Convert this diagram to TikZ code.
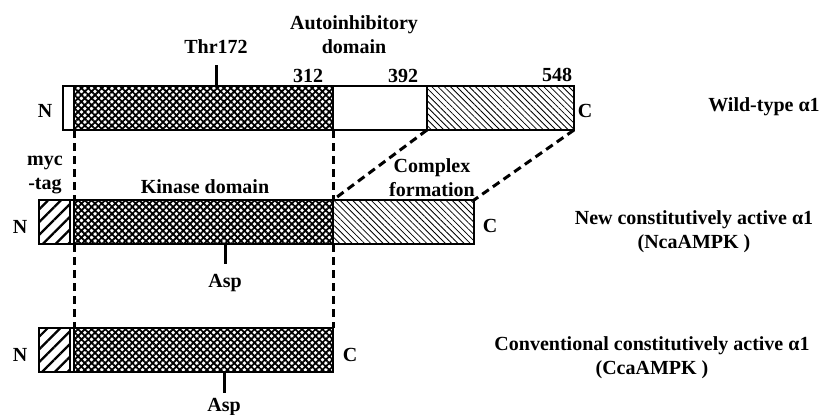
\documentclass[tikz,border=0pt]{standalone}
\usepackage{fontspec}
\setmainfont{Liberation Serif}
\usetikzlibrary{patterns.meta,positioning}
\tikzset{
  seg/.style={draw,line width=1.1pt,inner sep=0pt,outer sep=0pt,minimum height=22pt},
  kin/.style={seg,pattern={Hatch[angle=45,distance=2.4pt,line width=0.9pt]}},
  ctail/.style={seg,pattern={Lines[angle=-45,distance=2.2pt,line width=0.4pt]}},
  myc/.style={seg,pattern={Lines[angle=45,distance=4.5pt,line width=1.1pt]}},
  guide/.style={line width=1.5pt,dash pattern=on 4pt off 2.5pt},
  tick/.style={line width=1.5pt},
  lbl/.style={font=\bfseries,inner sep=0pt,align=center},
}
\begin{document}
\begin{tikzpicture}[x=0.5pt,y=-0.5pt]
  \fill[white] (0,0) rectangle (827,414);
  \useasboundingbox (0,0) rectangle (827,414);
  % wild-type alpha1
  \node[seg,minimum width=5.5pt,anchor=west] (wN) at (63,108) {};
  \node[kin,minimum width=129.5pt,right=0pt of wN] (wKin) {};
  \node[seg,minimum width=47pt,right=0pt of wKin] (wAI) {};
  \node[ctail,minimum width=73.5pt,right=0pt of wAI] (wCt) {};
  % NcaAMPK
  \node[myc,minimum width=15.5pt,anchor=west] (nMyc) at (39,222) {};
  \node[seg,minimum width=2pt,right=0pt of nMyc] (nGap) {};
  \node[kin,minimum width=129.5pt,right=0pt of nGap] (nKin) {};
  \node[ctail,minimum width=70.5pt,right=0pt of nKin] (nCt) {};
  % CcaAMPK
  \node[myc,minimum width=15.5pt,anchor=west] (cMyc) at (39,350) {};
  \node[seg,minimum width=2pt,right=0pt of cMyc] (cGap) {};
  \node[kin,minimum width=129.5pt,right=0pt of cGap] (cKin) {};
  % guide lines
  \draw[guide] (wKin.south west) -- (nKin.north west);
  \draw[guide] (nKin.south west) -- (cKin.north west);
  \draw[guide] (wKin.south east) -- (nKin.north east);
  \draw[guide] (nKin.south east) -- (cKin.north east);
  \draw[guide] (wCt.south west) -- (nCt.north west);
  \draw[guide] (wCt.south east) -- (nCt.north east);
  % labels, top
  \node[lbl] (thr) at (216,47) {Thr172};
  \draw[tick] (wKin.north -| thr) -- ++(0,-21);
  \node[lbl] (ai) at (354,35) {Autoinhibitory\\domain};
  \node[lbl] (p312) at (308,76) {312};
  \node[lbl] (p392) at (403,76) {392};
  \node[lbl] (p548) at (557,75) {548};
  \node[lbl] (wNt) at (45,111) {N};
  \node[lbl] (wCterm) at (585,111) {C};
  \node[lbl] (wName) at (764,107) {Wild-type α1};
  % labels, middle
  \node[lbl] (mycLbl) at (45,175) {myc\\-tag};
  \node[lbl] (kinLbl) at (205,187) {Kinase domain};
  \node[lbl] (cfLbl) at (432,178) {Complex\\formation};
  \node[lbl] (nNt) at (20,227) {N};
  \node[lbl] (nCterm) at (490,226) {C};
  \node[lbl] (nName) at (694,232) {New constitutively active α1\\(NcaAMPK )};
  \node[lbl] (aspN) at (225,283) {Asp};
  \draw[tick] (nKin.south -| aspN) -- ++(0,20);
  % labels, bottom
  \node[lbl] (cNt) at (20,355) {N};
  \node[lbl] (cCterm) at (350,355) {C};
  \node[lbl] (cName) at (652,358) {Conventional constitutively active α1\\(CcaAMPK )};
  \node[lbl] (aspC) at (224,407) {Asp};
  \draw[tick] (cKin.south -| aspC) -- ++(0,21);
\end{tikzpicture}
\end{document}
